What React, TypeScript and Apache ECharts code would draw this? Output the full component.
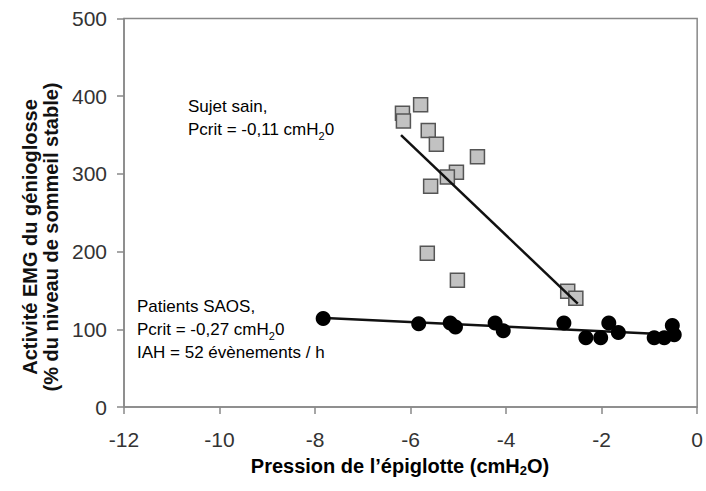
import React, { useEffect, useRef } from "react";
import * as echarts from "echarts";

// Healthy subject (squares): [pressure, EMG activity]
const healthyX = [-6.17, -6.15, -5.79, -5.63, -5.46, -4.6, -5.04, -5.23, -5.58, -5.65, -5.02, -2.71, -2.54];
const healthyY = [378, 368, 389, 356, 338, 322, 302, 296, 284, 198, 163, 149, 140];
// OSA patients (circles)
const osaX = [-7.83, -5.83, -5.17, -5.06, -4.23, -4.06, -2.79, -2.33, -2.02, -1.85, -1.65, -0.9, -0.69, -0.52, -0.48];
const osaY = [114, 107, 108, 103, 108, 98, 108, 89, 89, 108, 96, 89, 89, 105, 93];
// Regression lines (endpoints)
const healthyFitX = [-6.2, -2.5];
const healthyFitY = [350, 133];
const osaFitX = [-7.9, -0.45];
const osaFitY = [115, 93];

const xTicks = { min: -12, max: 0, interval: 2 };
const yTicks = { min: 0, max: 500, interval: 100 };

const FONT = "'Liberation Sans', Arial, Helvetica, sans-serif";

const zip = (xs: number[], ys: number[]) => xs.map((x, i) => [x, ys[i]]);

export default function App() {
  const ref = useRef<HTMLDivElement>(null);
  useEffect(() => {
    if (!ref.current) return;
    document.body.style.margin = "0";
    const chart = echarts.init(ref.current, null, { renderer: "svg" });
    const axisColor = "#888";
    const normal = { fontSize: 17, fontFamily: FONT, color: "#111", lineHeight: 23 };
    const sub = { fontSize: 11, fontFamily: FONT, color: "#111", lineHeight: 15, verticalAlign: "bottom" };
    chart.setOption({
      animation: false,
      grid: {
        left: 124,
        right: 6,
        top: 18.5,
        bottom: 84,
        show: true,
        borderColor: axisColor,
        borderWidth: 1.5,
        containLabel: false,
      },
      xAxis: {
        type: "value",
        min: xTicks.min,
        max: xTicks.max,
        interval: xTicks.interval,
        axisLine: { show: true, onZero: false, lineStyle: { color: axisColor, width: 1.5 } },
        axisTick: { show: true, length: 7, lineStyle: { color: axisColor, width: 1.5 } },
        splitLine: { show: false },
        axisLabel: { fontSize: 21, fontFamily: FONT, color: "#333", margin: 22 },
      },
      yAxis: {
        type: "value",
        min: yTicks.min,
        max: yTicks.max,
        interval: yTicks.interval,
        axisLine: { show: true, onZero: false, lineStyle: { color: axisColor, width: 1.5 } },
        axisTick: { show: true, length: 7, lineStyle: { color: axisColor, width: 1.5 } },
        splitLine: { show: false },
        axisLabel: { fontSize: 21, fontFamily: FONT, color: "#333", margin: 17 },
      },
      series: [
        {
          type: "scatter",
          data: zip(healthyX, healthyY),
          symbol: "rect",
          symbolSize: 14,
          itemStyle: { color: "#c2c2c2", borderColor: "#555", borderWidth: 1.5, opacity: 1 },
          z: 2,
        },
        {
          type: "line",
          data: zip(healthyFitX, healthyFitY),
          symbol: "none",
          lineStyle: { color: "#111", width: 2.5 },
          z: 3,
        },
        {
          type: "line",
          data: zip(osaFitX, osaFitY),
          symbol: "none",
          lineStyle: { color: "#111", width: 2.5 },
          z: 3,
        },
        {
          type: "scatter",
          data: zip(osaX, osaY),
          symbol: "circle",
          symbolSize: 15,
          itemStyle: { color: "#000", opacity: 1 },
          z: 4,
        },
      ],
      graphic: [
        {
          type: "text",
          x: 188,
          y: 95,
          style: {
            text: "{a|Sujet sain,}\n{a|Pcrit = -0,11 cmH}{s|2}{a|0}",
            rich: { a: normal, s: sub },
            align: "left",
            verticalAlign: "top",
          },
        },
        {
          type: "text",
          x: 137,
          y: 295,
          style: {
            text: "{a|Patients SAOS,}\n{a|Pcrit = -0,27 cmH}{s|2}{a|0}\n{a|IAH = 52 évènements / h}",
            rich: { a: normal, s: sub },
            align: "left",
            verticalAlign: "top",
          },
        },
        {
          type: "text",
          x: 400,
          y: 466,
          style: {
            text: "{a|Pression de l’épiglotte (cmH}{s|2}{a|O)}",
            rich: {
              a: { fontSize: 20, fontWeight: "bold", fontFamily: FONT, color: "#111", lineHeight: 22 },
              s: { fontSize: 13, fontWeight: "bold", fontFamily: FONT, color: "#111", lineHeight: 14, verticalAlign: "bottom" },
            },
            align: "center",
            verticalAlign: "middle",
          },
        },
        {
          type: "text",
          x: 40,
          y: 237,
          rotation: Math.PI / 2,
          style: {
            text: "Activité EMG du génioglosse\n(% du niveau de sommeil stable)",
            fontSize: 20,
            fontWeight: "bold",
            fontFamily: FONT,
            fill: "#111",
            lineHeight: 21,
            align: "center",
            verticalAlign: "middle",
          },
        },
      ],
    });
    return () => chart.dispose();
  }, []);
  return <div ref={ref} style={{ width: 706, height: 491, position: "absolute", left: 0, top: 0 }} />;
}
